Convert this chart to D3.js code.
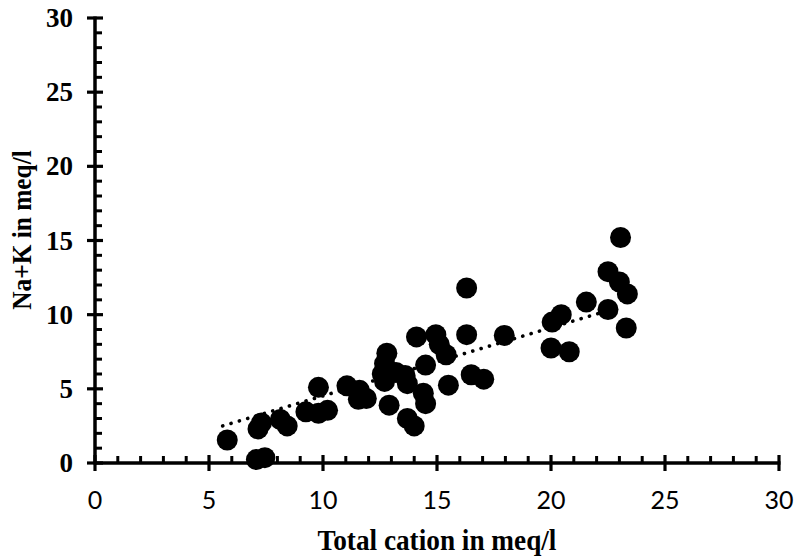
<!DOCTYPE html>
<html>
<head>
<meta charset="utf-8">
<script src="https://cdn.jsdelivr.net/npm/d3@7"></script>
<style>
  html, body { margin: 0; padding: 0; background: #fff; }
  svg { display: block; }
  text { fill: #000; }
  .serif { font-family: "Times New Roman", "Liberation Serif", serif; font-weight: bold; }
  .sans { font-family: Lato, "Open Sans", sans-serif; font-weight: normal; }
</style>
</head>
<body>
<svg id="chart" width="796" height="560"></svg>
<script>
// ---- data ----
const totalCation = [5.8, 7.08, 7.45, 7.15, 7.3, 8.13, 8.43, 9.25, 9.8, 10.2, 9.8, 11.05, 11.6, 11.55, 11.9,
  12.8, 12.7, 12.6, 12.7, 13.2, 13.6, 13.7, 12.9, 13.7, 14.0, 14.1, 14.5, 14.4, 14.5, 14.95, 15.1, 15.4, 15.5,
  16.3, 16.3, 16.5, 17.05, 17.95, 20.05, 20.45, 20.0, 20.8, 21.55, 22.5, 22.5, 23.0, 23.35, 23.05, 23.3];
const naK = [1.55, 0.23, 0.36, 2.3, 2.7, 2.93, 2.5, 3.45, 3.35, 3.55, 5.1, 5.2, 4.9, 4.3, 4.35,
  7.4, 6.7, 6.0, 5.5, 6.1, 5.9, 5.35, 3.9, 3.0, 2.5, 8.5, 6.6, 4.7, 4.0, 8.65, 8.0, 7.3, 5.25,
  11.8, 8.65, 5.95, 5.65, 8.6, 9.5, 10.0, 7.75, 7.5, 10.85, 10.35, 12.9, 12.2, 11.4, 15.2, 9.1];
// dotted trend line end points
const trendX = [5.6, 23.1];
const trendY = [2.5, 10.55];
const xTicks = [0, 5, 10, 15, 20, 25, 30];
const yTicks = [0, 5, 10, 15, 20, 25, 30];
const minorTicks = d3.range(0, 31, 1);
const xTitle = "Total cation in meq/l";
const yTitle = "Na+K in meq/l";

// ---- layout ----
const svg = d3.select("#chart");
const mLeft = 95, mRight = 779, mTop = 18, mBottom = 463;
const x = d3.scaleLinear().domain([0, 30]).range([mLeft, mRight]);
const y = d3.scaleLinear().domain([0, 30]).range([mBottom, mTop]);

const pts = totalCation.map((v, i) => ({ x: v, y: naK[i] }));

// points
svg.append("g").selectAll("circle").data(pts).join("circle")
  .attr("cx", d => x(d.x)).attr("cy", d => y(d.y)).attr("r", 10.5).attr("fill", "#000");

// trend line (dotted)
svg.append("path")
  .datum(trendX.map((v, i) => [v, trendY[i]]))
  .attr("d", d3.line().x(d => x(d[0])).y(d => y(d[1])))
  .attr("fill", "none")
  .attr("stroke", "#000").attr("stroke-width", 3.6)
  .attr("stroke-linecap", "round").attr("stroke-dasharray", "0.1,8.6");

// minor ticks (inside)
const ax = svg.append("g");
ax.selectAll("line.mx").data(minorTicks.filter(d => d % 5 !== 0)).join("line")
  .attr("x1", d => x(d)).attr("x2", d => x(d)).attr("y1", mBottom).attr("y2", mBottom - 7)
  .attr("stroke", "#000").attr("stroke-width", 3);
ax.selectAll("line.my").data(minorTicks.filter(d => d % 5 !== 0)).join("line")
  .attr("y1", d => y(d)).attr("y2", d => y(d)).attr("x1", mLeft).attr("x2", mLeft + 7)
  .attr("stroke", "#000").attr("stroke-width", 3);
// major ticks (cross)
ax.selectAll("line.Mx").data(xTicks).join("line")
  .attr("x1", d => x(d)).attr("x2", d => x(d)).attr("y1", mBottom - 8).attr("y2", mBottom + 8)
  .attr("stroke", "#000").attr("stroke-width", 3.2);
ax.selectAll("line.My").data(yTicks).join("line")
  .attr("y1", d => y(d)).attr("y2", d => y(d)).attr("x1", mLeft - 8).attr("x2", mLeft + 8)
  .attr("stroke", "#000").attr("stroke-width", 3.2);
// axis lines
ax.append("line").attr("x1", mLeft).attr("x2", mRight + 1.5).attr("y1", mBottom).attr("y2", mBottom)
  .attr("stroke", "#000").attr("stroke-width", 3.5);
ax.append("line").attr("x1", mLeft).attr("x2", mLeft).attr("y1", mTop - 1.5).attr("y2", mBottom + 1.5)
  .attr("stroke", "#000").attr("stroke-width", 3.5);

// tick labels
ax.selectAll("text.xl").data(xTicks).join("text").attr("class", "sans")
  .attr("x", d => x(d)).attr("y", mBottom + 46).attr("text-anchor", "middle")
  .attr("font-size", 25).text(d => d);
ax.selectAll("text.yl").data(yTicks).join("text").attr("class", "serif")
  .attr("x", mLeft - 22).attr("y", d => y(d) + 9).attr("text-anchor", "end")
  .attr("font-size", 27).text(d => d);

// titles
svg.append("text").attr("class", "serif")
  .attr("transform", `translate(${(mLeft + mRight) / 2},550) scale(0.94,1)`)
  .attr("text-anchor", "middle").attr("font-size", 29).text(xTitle);
svg.append("text").attr("class", "serif")
  .attr("transform", `translate(31,230) rotate(-90) scale(0.94,1)`)
  .attr("text-anchor", "middle").attr("font-size", 27).text(yTitle);
</script>
</body>
</html>
